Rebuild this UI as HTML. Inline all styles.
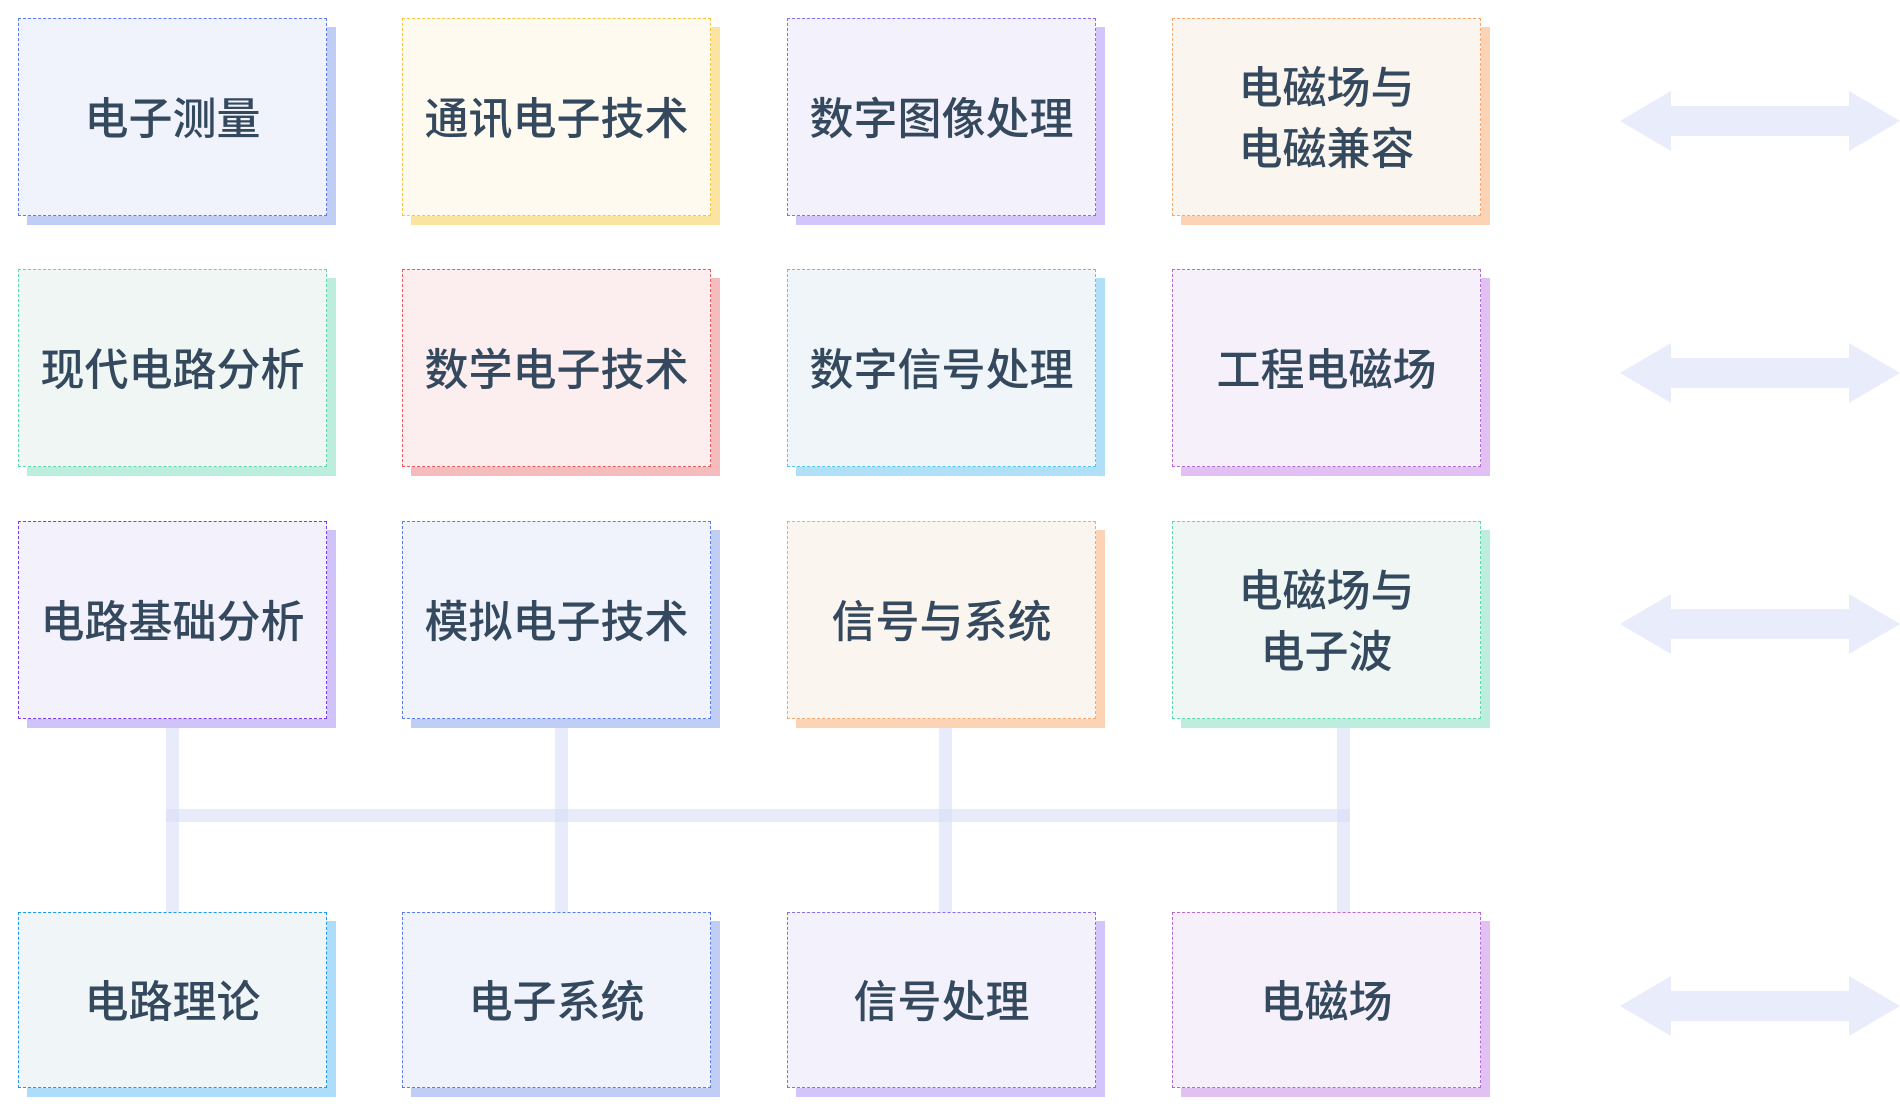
<!DOCTYPE html>
<html><head><meta charset="utf-8"><style>
html,body{margin:0;padding:0;background:#fff;width:1900px;height:1116px;overflow:hidden;position:relative;font-family:"Liberation Sans","Noto Sans CJK SC",sans-serif}
.b{position:absolute;width:309px;box-sizing:border-box;border:1.5px dashed;display:flex;align-items:center;justify-content:center;text-align:center;color:#34495e;font-size:44px;line-height:61px;font-weight:500;padding-top:4px}
.s{position:absolute;width:309px}
.c{position:absolute;background:rgba(214,220,245,0.55)}
</style></head><body>
<div class="c" style="left:166px;top:719px;width:13px;height:193px"></div>
<div class="c" style="left:555px;top:719px;width:13px;height:193px"></div>
<div class="c" style="left:939px;top:719px;width:13px;height:193px"></div>
<div class="c" style="left:1337px;top:719px;width:13px;height:193px"></div>
<div class="c" style="left:166px;top:809px;width:1184px;height:13px"></div>

<svg style="position:absolute;left:0;top:0" width="1900" height="1116">
<g fill="#e9ecfa">
<polygon points="1620,121 1671,91 1671,106 1849,106 1849,91 1900,121 1849,151 1849,136 1671,136 1671,151"/>
<polygon points="1620,373 1671,343 1671,358 1849,358 1849,343 1900,373 1849,403 1849,388 1671,388 1671,403"/>
<polygon points="1620,624 1671,594 1671,609 1849,609 1849,594 1900,624 1849,654 1849,639 1671,639 1671,654"/>
<polygon points="1620,1006 1671,976 1671,991 1849,991 1849,976 1900,1006 1849,1036 1849,1021 1671,1021 1671,1036"/>
</g></svg>

<div class="s" style="left:27px;top:27px;height:198px;background:#c0cdf5"></div>
<div class="b" style="left:18px;top:18px;height:198px;background:#f0f3fc;border-color:#5b7cf0">电子测量</div>
<div class="s" style="left:411px;top:27px;height:198px;background:#fbe3a0"></div>
<div class="b" style="left:402px;top:18px;height:198px;background:#fffaf0;border-color:#f5c842">通讯电子技术</div>
<div class="s" style="left:796px;top:27px;height:198px;background:#d3c5fa"></div>
<div class="b" style="left:787px;top:18px;height:198px;background:#f3f1fc;border-color:#8b6cf0">数字图像处理</div>
<div class="s" style="left:1181px;top:27px;height:198px;background:#fdd3b5"></div>
<div class="b" style="left:1172px;top:18px;height:198px;background:#fbf5f0;border-color:#f5a870">电磁场与<br>电磁兼容</div>

<div class="s" style="left:27px;top:278px;height:198px;background:#bdeedd"></div>
<div class="b" style="left:18px;top:269px;height:198px;background:#eff6f3;border-color:#5dd8b5">现代电路分析</div>
<div class="s" style="left:411px;top:278px;height:198px;background:#f4bcbc"></div>
<div class="b" style="left:402px;top:269px;height:198px;background:#fcedee;border-color:#ee5a5a">数学电子技术</div>
<div class="s" style="left:796px;top:278px;height:198px;background:#b0dff8"></div>
<div class="b" style="left:787px;top:269px;height:198px;background:#eff5f8;border-color:#4fc8ee">数字信号处理</div>
<div class="s" style="left:1181px;top:278px;height:198px;background:#e3c0f3"></div>
<div class="b" style="left:1172px;top:269px;height:198px;background:#f5f0fa;border-color:#b56ad8">工程电磁场</div>

<div class="s" style="left:27px;top:530px;height:198px;background:#d0c3fa"></div>
<div class="b" style="left:18px;top:521px;height:198px;background:#f3f1fc;border-color:#7a3cf0">电路基础分析</div>
<div class="s" style="left:411px;top:530px;height:198px;background:#c0cdf5"></div>
<div class="b" style="left:402px;top:521px;height:198px;background:#f0f3fc;border-color:#5b7cf0">模拟电子技术</div>
<div class="s" style="left:796px;top:530px;height:198px;background:#fdd3b5"></div>
<div class="b" style="left:787px;top:521px;height:198px;background:#fbf5f0;border-color:#f5a870">信号与系统</div>
<div class="s" style="left:1181px;top:530px;height:198px;background:#bdeedd"></div>
<div class="b" style="left:1172px;top:521px;height:198px;background:#eff6f3;border-color:#5dd8b5">电磁场与<br>电子波</div>

<div class="s" style="left:27px;top:921px;height:176px;background:#aedcfb"></div>
<div class="b" style="left:18px;top:912px;height:176px;background:#f0f5f8;border-color:#1a9af0">电路理论</div>
<div class="s" style="left:411px;top:921px;height:176px;background:#c0cdf5"></div>
<div class="b" style="left:402px;top:912px;height:176px;background:#f0f3fc;border-color:#5b7cf0">电子系统</div>
<div class="s" style="left:796px;top:921px;height:176px;background:#d3c5fa"></div>
<div class="b" style="left:787px;top:912px;height:176px;background:#f3f1fc;border-color:#8b6cf0">信号处理</div>
<div class="s" style="left:1181px;top:921px;height:176px;background:#e3c0f3"></div>
<div class="b" style="left:1172px;top:912px;height:176px;background:#f5f0fa;border-color:#b56ad8">电磁场</div>
</body></html>
